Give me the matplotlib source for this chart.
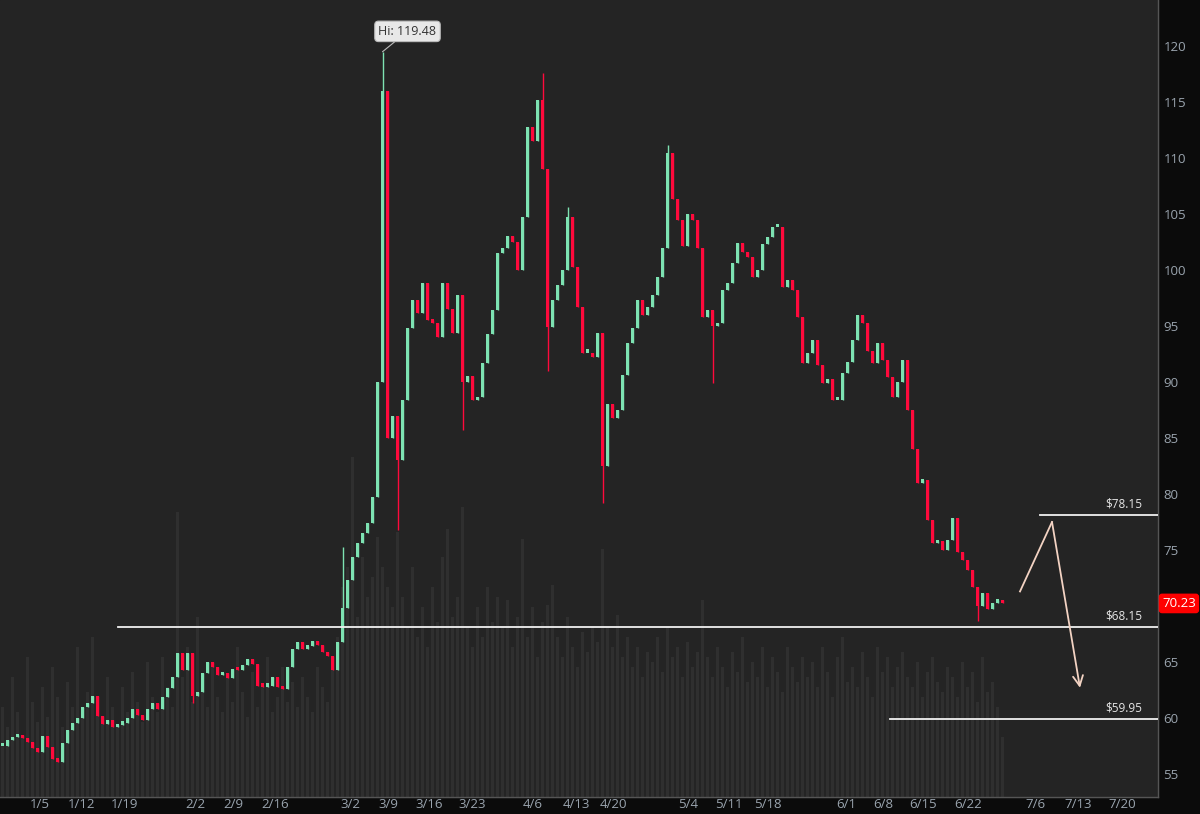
import numpy as np
import matplotlib.pyplot as plt
import matplotlib.transforms as mtransforms

# closing prices, one candle per slot
closes = [
    57.5, 58.0, 58.3, 58.5, 58.2, 57.9, 57.3, 57.0, 58.4, 57.4,
    56.3, 56.1, 57.8, 58.9, 59.6, 60.0, 61.0, 61.3, 62.0, 60.2,
    59.5, 59.8, 59.2, 59.4, 59.6, 60.0, 60.8, 60.3, 59.8, 60.8,
    61.3, 60.8, 61.9, 62.7, 63.7, 65.8, 64.3, 65.8, 62.0, 62.3,
    64.0, 65.0, 64.6, 63.8, 64.0, 63.6, 64.4, 64.3, 64.7, 65.3,
    64.8, 62.9, 62.8, 62.9, 63.7, 62.8, 62.6, 64.6, 66.2, 66.8,
    66.2, 66.4, 66.9, 66.5, 65.9, 65.5, 64.3, 66.8, 69.8, 72.3,
    74.4, 75.6, 76.5, 77.4, 79.7, 90.0, 116.0, 85.0, 87.0, 83.0,
    88.4, 94.8, 97.3, 96.2, 98.8, 95.5, 95.3, 94.0, 98.8, 96.5,
    94.4, 97.8, 90.0, 90.5, 88.4, 88.7, 91.7, 94.3, 96.4, 101.5,
    102.0, 103.0, 102.5, 100.0, 104.7, 112.8, 111.5, 115.2, 109.0, 94.9,
    97.3, 98.7, 100.0, 104.7, 100.3, 96.7, 92.6, 92.6, 92.2, 94.4,
    82.5, 88.0, 86.8, 87.5, 90.6, 93.5, 94.8, 97.3, 96.0, 96.7,
    97.8, 99.4, 102.0, 110.4, 106.3, 104.5, 102.1, 105.0, 104.5, 102.0,
    95.8, 96.4, 95.0, 95.3, 98.2, 98.8, 100.6, 102.4, 101.6, 101.2,
    99.4, 100.0, 102.3, 102.9, 103.8, 103.8, 98.5, 99.1, 98.2, 95.8,
    91.7, 92.6, 93.75, 91.5, 89.9, 90.3, 88.4, 88.4, 90.8, 91.8,
    93.75, 96.0, 95.3, 92.8, 91.7, 93.5, 92.0, 90.4, 88.7, 90.0,
    92.0, 87.5, 84.0, 81.0, 81.25, 77.7, 75.6, 75.8, 75.0, 75.9,
    77.9, 74.8, 74.1, 73.2, 71.7, 70.0, 71.2, 69.7, 70.3, 70.5,
    70.23,
]

# wicks that stand out from the bodies (candle index -> price)
spike_highs = {68: 75.3, 76: 119.48, 108: 117.6, 113: 105.6, 133: 111.2}
spike_lows = {38: 61.3, 79: 76.8, 92: 85.7, 109: 91.0, 120: 79.2, 142: 89.9, 195: 68.7}

volume = [
    90, 70, 120, 85, 60, 140, 95, 75, 110, 80,
    130, 100, 70, 115, 90, 150, 85, 105, 160, 95,
    80, 120, 90, 70, 110, 85, 125, 95, 75, 135,
    100, 85, 140, 110, 90, 285, 120, 150, 95, 180,
    110, 90, 130, 100, 85, 120, 95, 150, 105, 80,
    125, 90, 110, 140, 85, 100, 130, 95, 115, 90,
    120, 100, 85, 130, 110, 95, 140, 160, 210, 230,
    340, 180, 240, 200, 220, 260, 230, 210, 190, 265,
    200, 170, 230, 160, 190, 150, 210, 175, 240, 268,
    180, 200, 290, 170, 150, 190, 160, 210, 175, 200,
    170, 197, 150, 180, 258, 160, 190, 140, 175, 192,
    212, 160, 140, 180, 150, 130, 165, 145, 170, 155,
    248, 170, 150, 182, 140, 160, 130, 150, 120, 145,
    135, 160, 125, 170, 140, 150, 120, 155, 130, 145,
    197, 140, 120, 150, 130, 110, 145, 125, 160, 115,
    135, 120, 150, 110, 140, 125, 105, 150, 130, 115,
    140, 120, 135, 110, 150, 125, 100, 140, 160, 115,
    130, 110, 145, 120, 100, 150, 125, 140, 110, 130,
    145, 120, 110, 135, 100, 125, 140, 115, 105, 130,
    120, 100, 135, 110, 125, 95, 140, 105, 115, 90,
    60,
]

date_labels = ["1/5", "1/12", "1/19", "2/2", "2/9", "2/16", "3/2", "3/9", "3/16",
               "3/23", "4/6", "4/13", "4/20", "5/4", "5/11", "5/18", "6/1", "6/8",
               "6/15", "6/22", "7/6", "7/13", "7/20"]
date_pos = [7.5, 15.9, 24.5, 38.5, 46.1, 54.5, 69.5, 77.1, 85.3, 93.9, 106.1,
            114.7, 122.1, 137.1, 145.3, 153.1, 168.7, 176.1, 184.1, 193.1,
            206.7, 215.1, 223.9]

levels = [78.15, 68.15, 59.95]
level_start = [207.5, 23.1, 177.5]

# hand drawn arrow path (index, price)
arrow_x = [203.5, 209.9, 215.5]
arrow_y = [71.3, 77.5, 62.7]

hi_value = 119.48
hi_index = 76
last_price = 70.23

BG = "#242424"
DARK = "#0b0b0b"
GREEN = "#7de2b2"
RED = "#ff0a3c"
TXT = "#9aa4ae"

plt.rcParams['font.family'] = ['Open Sans', 'DejaVu Sans']

fig = plt.figure(figsize=(12, 8.14), dpi=100, facecolor=DARK)
ax = fig.add_axes([0, 17 / 814, 1158 / 1200, 797 / 814])

n = len(closes)
idx = np.arange(n)
c = np.array(closes)
o = np.concatenate([[c[0]], c[:-1]])
hi = np.maximum(o, c)
lo = np.minimum(o, c)
for k, v in spike_highs.items():
    hi[k] = v
for k, v in spike_lows.items():
    lo[k] = v
up = c >= o
cols = np.where(up, GREEN, RED)

# volume in the background on its own scale
vax = ax.twinx()
vax.set_ylim(0, 797)
vax.bar(idx, volume, width=0.55, color="#2f2f2f", linewidth=0)
vax.set_axis_off()
ax.set_zorder(vax.get_zorder() + 1)
ax.patch.set_visible(False)
fig.patches.append(plt.Rectangle((0, 17 / 814), 1158 / 1200, 797 / 814,
                                 transform=fig.transFigure, color=BG, zorder=-10))

ax.vlines(idx, lo, hi, colors=cols, linewidth=1.0, zorder=3)
body_h = np.maximum(np.abs(c - o), 0.3)
ax.bar(idx, body_h, bottom=np.minimum(o, c), width=0.75,
       color=cols, linewidth=0, zorder=4)

ax.set_xlim(-0.5, 231.1)
ax.set_ylim(52.95, 124.1)

# support / resistance lines
for lv, st in zip(levels, level_start):
    ax.plot([st, 231.1], [lv, lv], color="#f0f0f0", lw=1.3, zorder=5)
    ax.text(227.9, lv + 0.4, f"${lv:.2f}", color="#e6e6e6", fontsize=8.5,
            ha="right", va="bottom", zorder=6)

ax.plot(arrow_x[:2], arrow_y[:2], color="#f3d3c3", lw=1.3, zorder=6)
ax.annotate("", xy=(arrow_x[2], arrow_y[2]), xytext=(arrow_x[1], arrow_y[1]),
            arrowprops=dict(arrowstyle="->", color="#f3d3c3", lw=1.3,
                            mutation_scale=18, shrinkA=0, shrinkB=0), zorder=6)

# high marker
ax.annotate(f"Hi: {hi_value:.2f}", xy=(hi_index, hi_value), xytext=(hi_index + 5.0, 121.3),
            fontsize=9, color="#333333", ha="center", va="center",
            bbox=dict(boxstyle="round,pad=0.3", fc="#e8e8e8", ec="#bbbbbb", lw=0.8),
            arrowprops=dict(arrowstyle="-", color="#bbbbbb", lw=0.8, shrinkA=0, shrinkB=0),
            zorder=7)

# axes look
yt = np.arange(55, 121, 5)
ax.yaxis.tick_right()
ax.set_yticks(yt)
ax.set_yticklabels(["" if v == 70 else str(v) for v in yt])
ax.set_xticks(date_pos)
ax.set_xticklabels(date_labels)
ax.tick_params(axis="y", length=0, pad=4, labelsize=9.5, labelcolor=TXT)
ax.tick_params(axis="x", length=0, pad=1, labelsize=9.5, labelcolor=TXT)
for s in ["top", "left"]:
    ax.spines[s].set_visible(False)
for s in ["right", "bottom"]:
    ax.spines[s].set_color("#555555")
    ax.spines[s].set_linewidth(1.0)

# last price tag
trans = mtransforms.blended_transform_factory(ax.transAxes, ax.transData)
ax.text(1.0035, last_price, f"{last_price:.2f}", transform=trans, color="white",
        fontsize=9.5, ha="left", va="center", clip_on=False, zorder=8,
        bbox=dict(boxstyle="round,pad=0.2", fc="#ff0000", ec="#ff0000"))

fig.savefig("out.png", dpi=100, facecolor=DARK)
